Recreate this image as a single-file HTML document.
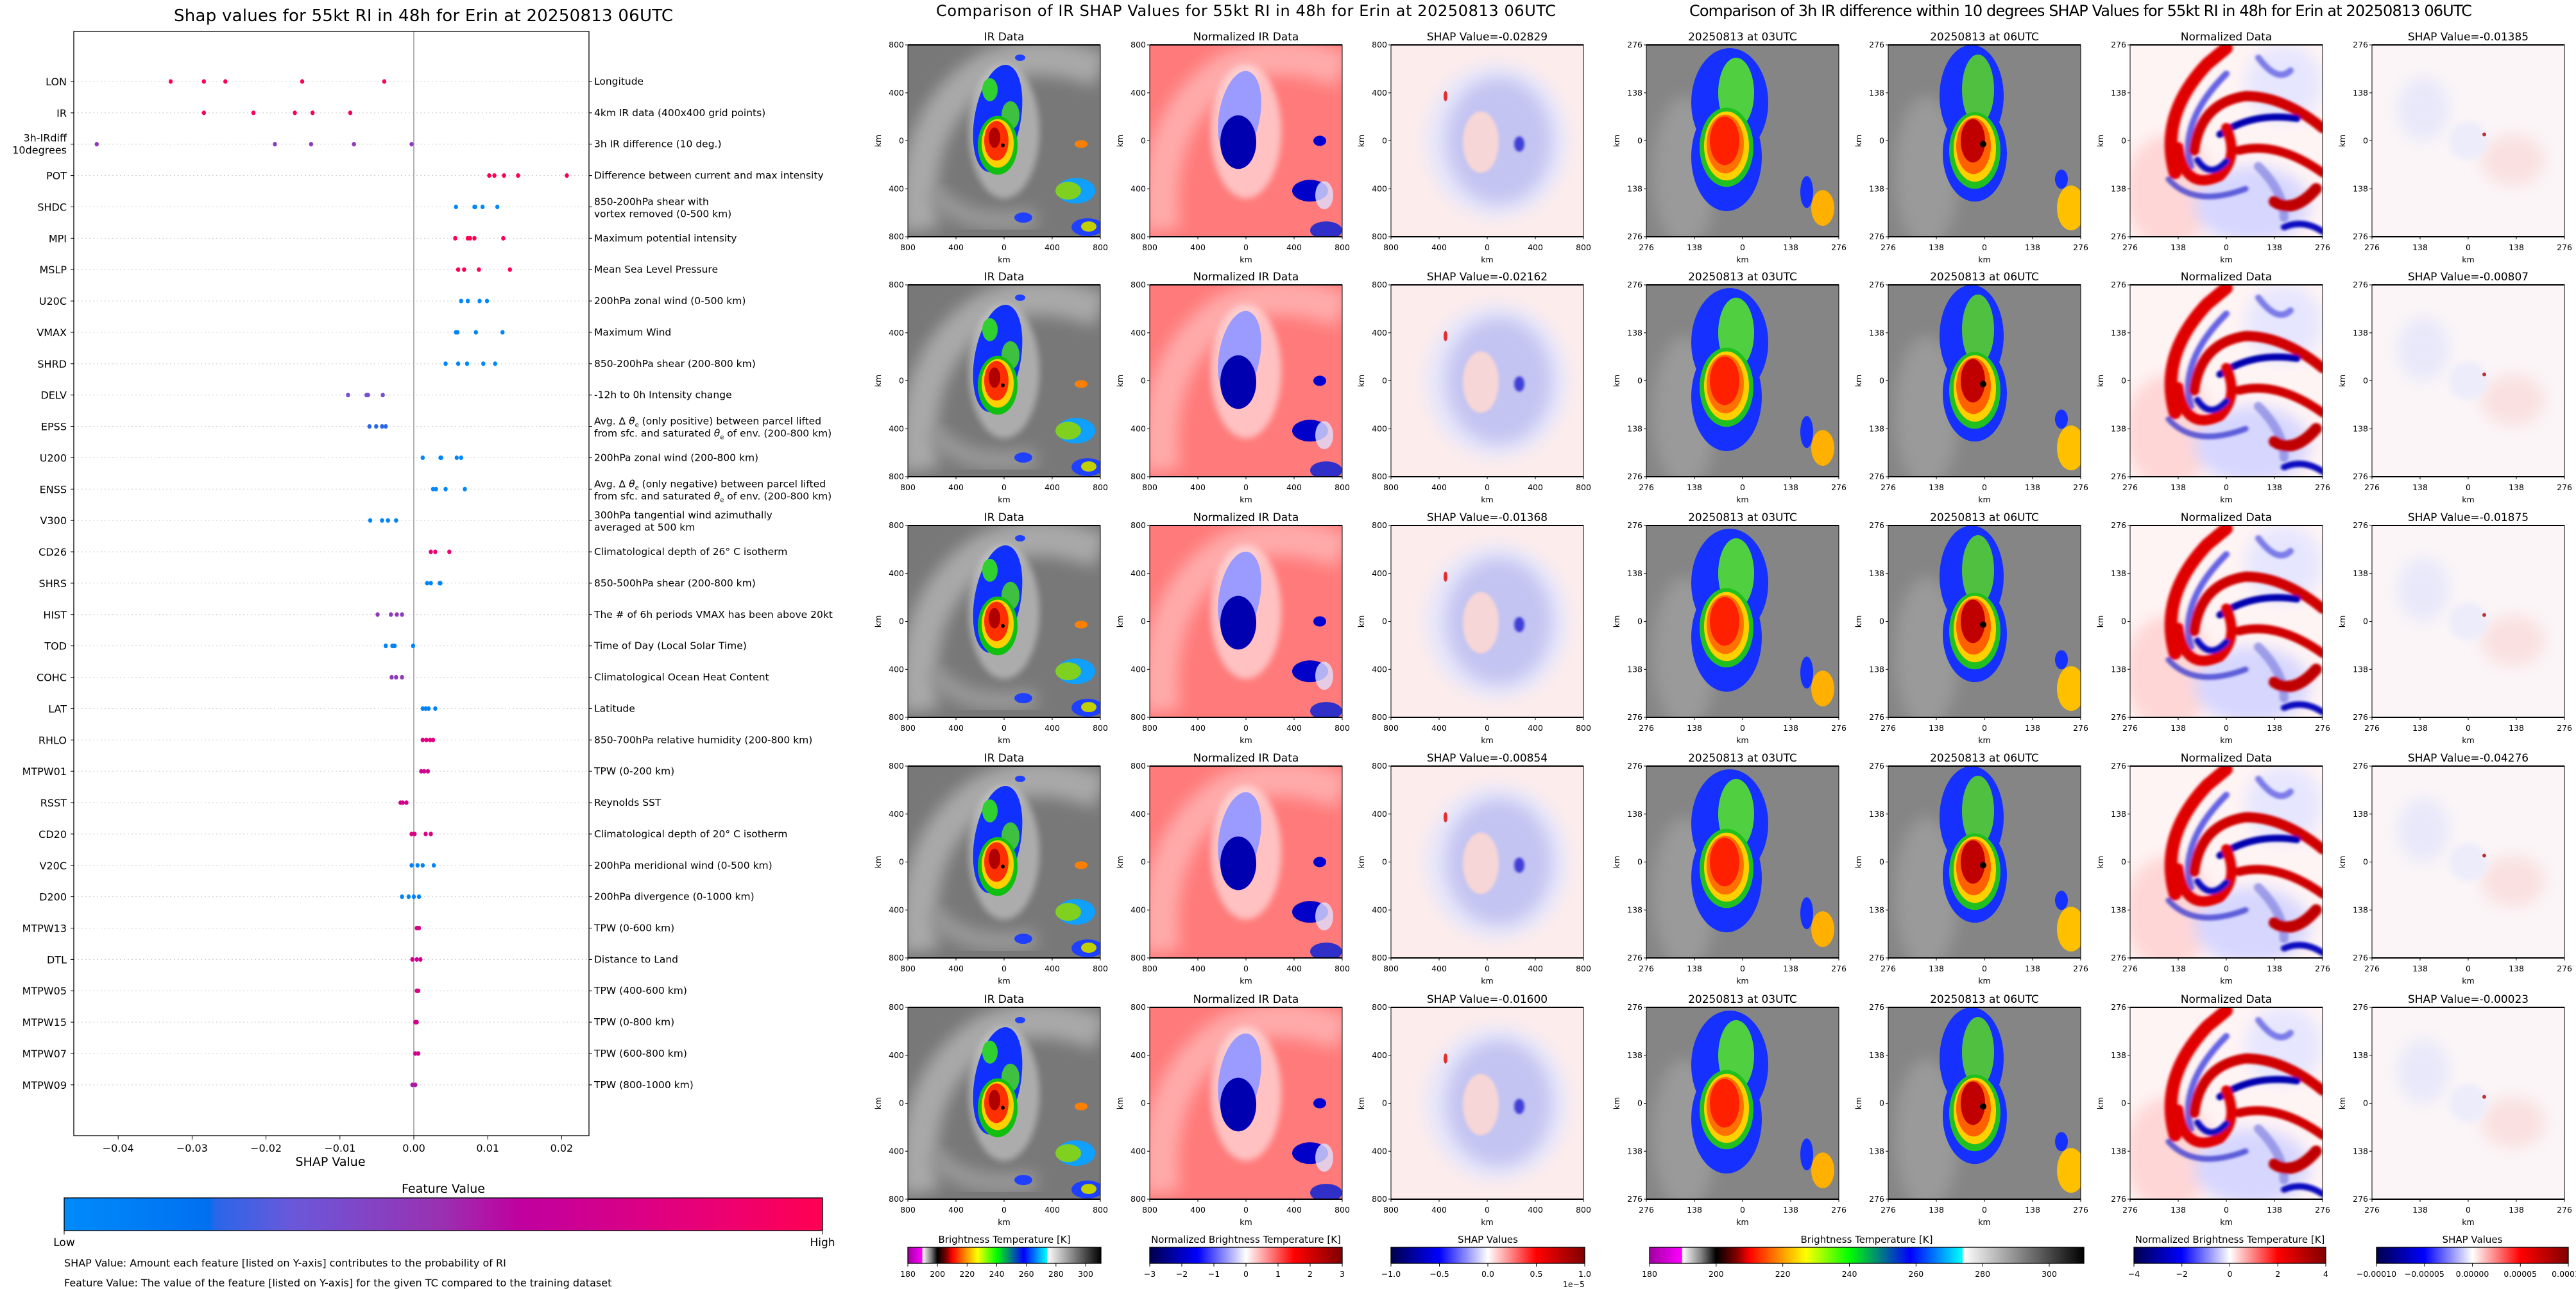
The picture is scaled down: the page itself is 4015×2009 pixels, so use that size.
<!DOCTYPE html>
<html><head><meta charset="utf-8">
<style>
html,body{margin:0;padding:0;background:#fff;}
svg{display:block;font-family:"DejaVu Sans","Liberation Sans",sans-serif;}
</style></head>
<body>
<svg id="root" width="4015" height="2009" viewBox="0 0 4015 2009" xmlns="http://www.w3.org/2000/svg">
<defs>
  <linearGradient id="fvGrad" x1="0" x2="1" y1="0" y2="0">
    <stop offset="0" stop-color="#008bfb"/><stop offset="0.19" stop-color="#0070f0"/>
    <stop offset="0.2" stop-color="#2a66e8"/><stop offset="0.3" stop-color="#6a58da"/>
    <stop offset="0.5" stop-color="#9a30b0"/><stop offset="0.6" stop-color="#c000a0"/>
    <stop offset="0.85" stop-color="#ea0075"/><stop offset="1" stop-color="#ff0052"/>
  </linearGradient>
  <linearGradient id="btGrad" x1="0" x2="1" y1="0" y2="0">
    <stop offset="0" stop-color="#a000a0"/><stop offset="0.074" stop-color="#ff00ff"/>
    <stop offset="0.076" stop-color="#ffffff"/><stop offset="0.12" stop-color="#808080"/>
    <stop offset="0.153" stop-color="#000000"/><stop offset="0.2" stop-color="#800000"/>
    <stop offset="0.23" stop-color="#ff0000"/><stop offset="0.3" stop-color="#ff9000"/>
    <stop offset="0.36" stop-color="#ffff00"/><stop offset="0.46" stop-color="#00ff00"/>
    <stop offset="0.6" stop-color="#0000ff"/><stop offset="0.72" stop-color="#00ffff"/>
    <stop offset="0.722" stop-color="#ffffff"/><stop offset="1" stop-color="#000000"/>
  </linearGradient>
  <linearGradient id="seisGrad" x1="0" x2="1" y1="0" y2="0">
    <stop offset="0" stop-color="#00004c"/><stop offset="0.25" stop-color="#0000ff"/>
    <stop offset="0.5" stop-color="#ffffff"/><stop offset="0.75" stop-color="#ff0000"/>
    <stop offset="1" stop-color="#800000"/>
  </linearGradient>
  <filter id="b2" x="-20%" y="-20%" width="140%" height="140%"><feGaussianBlur stdDeviation="2"/></filter>
  <filter id="b5" x="-20%" y="-20%" width="140%" height="140%"><feGaussianBlur stdDeviation="5"/></filter>
  <filter id="b12" x="-30%" y="-30%" width="160%" height="160%"><feGaussianBlur stdDeviation="12"/></filter>

  <g id="ir1">
    <rect width="300" height="300" fill="#787878"/>
    <path d="M20 290 Q0 120 120 40 Q200 0 300 40" stroke="#a9a9a9" stroke-width="55" fill="none" filter="url(#b12)"/>
    <path d="M40 230 Q90 290 200 270" stroke="#999" stroke-width="30" fill="none" filter="url(#b12)"/>
    <ellipse cx="150" cy="135" rx="55" ry="105" fill="#d0d0d0" opacity=".6" filter="url(#b5)"/>
    <ellipse cx="140" cy="115" rx="36" ry="85" fill="#1030ff" transform="rotate(10 140 115)"/>
    <ellipse cx="128" cy="70" rx="12" ry="18" fill="#30d030"/>
    <ellipse cx="160" cy="110" rx="14" ry="22" fill="#40c040"/>
    <ellipse cx="140" cy="157" rx="31" ry="46" fill="#10c010"/>
    <ellipse cx="140" cy="154" rx="25" ry="38" fill="#ffd000"/>
    <ellipse cx="138" cy="150" rx="19" ry="31" fill="#ff3000"/>
    <ellipse cx="135" cy="145" rx="9" ry="16" fill="#b00000"/>
    <circle cx="148" cy="157" r="3" fill="#000"/>
    <ellipse cx="262" cy="228" rx="30" ry="20" fill="#10a0ff"/>
    <ellipse cx="250" cy="228" rx="20" ry="14" fill="#80d020"/>
    <ellipse cx="280" cy="285" rx="25" ry="14" fill="#2040ff"/>
    <ellipse cx="282" cy="284" rx="12" ry="8" fill="#c0d000"/>
    <ellipse cx="270" cy="155" rx="10" ry="6" fill="#ff8000"/>
    <ellipse cx="180" cy="270" rx="14" ry="8" fill="#2040ff"/>
    <ellipse cx="175" cy="20" rx="8" ry="5" fill="#2040ff"/>
  </g>
  <g id="nir1">
    <rect width="300" height="300" fill="#ff7a7a"/>
    <path d="M20 290 Q0 120 120 40 Q200 0 300 40" stroke="#ffaaaa" stroke-width="55" fill="none" filter="url(#b12)"/>
    <ellipse cx="150" cy="135" rx="55" ry="105" fill="#ffe0e0" opacity=".7" filter="url(#b5)"/>
    <ellipse cx="140" cy="110" rx="32" ry="70" fill="#9a9aff" transform="rotate(10 140 110)"/>
    <ellipse cx="138" cy="152" rx="28" ry="42" fill="#0000b0"/>
    <ellipse cx="250" cy="228" rx="28" ry="17" fill="#0000c8"/>
    <ellipse cx="275" cy="290" rx="25" ry="14" fill="#3030c8"/>
    <ellipse cx="265" cy="150" rx="10" ry="8" fill="#0000d0"/>
    <ellipse cx="272" cy="235" rx="14" ry="22" fill="#e0e0ff" opacity=".8"/>
  </g>
  <g id="sh1">
    <rect width="300" height="300" fill="#fcecec"/>
    <ellipse cx="165" cy="150" rx="110" ry="120" fill="#e6e6fa" filter="url(#b12)"/>
    <ellipse cx="168" cy="150" rx="82" ry="98" fill="#c4c4f2" filter="url(#b12)"/>
    <ellipse cx="140" cy="152" rx="28" ry="48" fill="#f6d6d6" filter="url(#b2)"/>
    <ellipse cx="85" cy="80" rx="3" ry="8" fill="#e03030"/>
    <ellipse cx="200" cy="155" rx="8" ry="12" fill="#4040d8" filter="url(#b2)"/>
  </g>
  <g id="ir2">
    <rect width="300" height="300" fill="#858585"/>
    <ellipse cx="60" cy="200" rx="50" ry="120" fill="#a8a8a8" opacity=".6" filter="url(#b12)"/>
    <ellipse cx="130" cy="90" rx="60" ry="85" fill="#1530ff"/>
    <ellipse cx="125" cy="175" rx="55" ry="85" fill="#1530ff"/>
    <ellipse cx="140" cy="75" rx="28" ry="55" fill="#50d040"/>
    <ellipse cx="125" cy="160" rx="42" ry="62" fill="#20c020"/>
    <ellipse cx="125" cy="158" rx="35" ry="54" fill="#ffd000"/>
    <ellipse cx="123" cy="155" rx="29" ry="46" fill="#ff7000"/>
    <ellipse cx="122" cy="150" rx="23" ry="38" fill="#ff2000"/>
    <ellipse cx="275" cy="255" rx="18" ry="28" fill="#ffb000"/>
    <ellipse cx="250" cy="230" rx="10" ry="25" fill="#1530ff"/>
  </g>
  <g id="ir3">
    <rect width="300" height="300" fill="#858585"/>
    <ellipse cx="60" cy="200" rx="50" ry="120" fill="#a8a8a8" opacity=".6" filter="url(#b12)"/>
    <ellipse cx="130" cy="80" rx="50" ry="80" fill="#1530ff"/>
    <ellipse cx="135" cy="170" rx="50" ry="75" fill="#1530ff"/>
    <ellipse cx="140" cy="70" rx="25" ry="55" fill="#50c040"/>
    <ellipse cx="135" cy="165" rx="40" ry="60" fill="#20c020"/>
    <ellipse cx="135" cy="162" rx="33" ry="52" fill="#ffd000"/>
    <ellipse cx="133" cy="158" rx="27" ry="44" fill="#ff6000"/>
    <ellipse cx="132" cy="150" rx="19" ry="34" fill="#c00000"/>
    <circle cx="148" cy="155" r="5" fill="#000"/>
    <ellipse cx="285" cy="255" rx="22" ry="35" fill="#ffc000"/>
    <ellipse cx="270" cy="210" rx="10" ry="15" fill="#1530ff"/>
  </g>
  <g id="nd2">
    <rect width="300" height="300" fill="#fff4f4"/>
    <ellipse cx="60" cy="230" rx="70" ry="90" fill="#ffd6d6" filter="url(#b12)"/>
    <ellipse cx="190" cy="250" rx="90" ry="60" fill="#d6d6ff" filter="url(#b12)"/>
    <ellipse cx="240" cy="60" rx="60" ry="60" fill="#e6e6ff" filter="url(#b12)"/>
    <g fill="none" filter="url(#b2)" stroke-linecap="round" stroke-linejoin="round">
      <path d="M70 200 Q45 110 120 30 L150 5" stroke="#e00000" stroke-width="20"/>
      <path d="M95 190 Q75 120 150 45" stroke="#4040e0" stroke-width="10" opacity=".8"/>
      <path d="M100 165 Q110 90 180 80 Q240 80 300 130" stroke="#d00000" stroke-width="16"/>
      <path d="M140 140 Q190 105 260 115" stroke="#0000b0" stroke-width="11"/>
      <path d="M170 165 Q230 150 300 200" stroke="#d00000" stroke-width="14"/>
      <path d="M75 160 Q85 230 140 205 Q170 175 150 130" stroke="#e00000" stroke-width="16"/>
      <path d="M105 180 Q125 210 150 182" stroke="#1010c0" stroke-width="10"/>
      <path d="M60 210 Q100 255 180 225" stroke="#4040d0" stroke-width="9" opacity=".8"/>
      <path d="M200 190 Q240 230 240 270" stroke="#8080e0" stroke-width="14" opacity=".7"/>
      <path d="M225 245 Q255 265 290 225" stroke="#c00000" stroke-width="18"/>
      <path d="M240 285 Q270 272 300 292" stroke="#1010c0" stroke-width="10"/>
      <path d="M200 20 Q230 60 250 40" stroke="#5050e0" stroke-width="10" opacity=".7"/>
    </g>
  </g>
  <g id="sh2">
    <rect width="300" height="300" fill="#fbf5f7"/>
    <ellipse cx="80" cy="100" rx="40" ry="50" fill="#e8e8fa" filter="url(#b12)"/>
    <ellipse cx="220" cy="180" rx="50" ry="40" fill="#fae0e0" filter="url(#b12)"/>
    <ellipse cx="150" cy="150" rx="30" ry="30" fill="#ececfa" filter="url(#b5)"/>
    <circle cx="175" cy="140" r="3" fill="#c03030"/>
  </g>
</defs>
<g id="leftChart"></g>
<g id="panels"></g>
</svg>
<script>
const NS='http://www.w3.org/2000/svg';
const features=['LON','IR','3h-IRdiff|10degrees','POT','SHDC','MPI','MSLP','U20C','VMAX','SHRD','DELV','EPSS','U200','ENSS','V300','CD26','SHRS','HIST','TOD','COHC','LAT','RHLO','MTPW01','RSST','CD20','V20C','D200','MTPW13','DTL','MTPW05','MTPW15','MTPW07','MTPW09'];
const descriptions=['Longitude','4km IR data (400x400 grid points)','3h IR difference (10 deg.)','Difference between current and max intensity','850-200hPa shear with|vortex removed (0-500 km)','Maximum potential intensity','Mean Sea Level Pressure','200hPa zonal wind (0-500 km)','Maximum Wind','850-200hPa shear (200-800 km)','-12h to 0h Intensity change','Avg. Δ θe (only positive) between parcel lifted|from sfc. and saturated θe of env. (200-800 km)','200hPa zonal wind (200-800 km)','Avg. Δ θe (only negative) between parcel lifted|from sfc. and saturated θe of env. (200-800 km)','300hPa tangential wind azimuthally|averaged at 500 km','Climatological depth of 26° C isotherm','850-500hPa shear (200-800 km)','The # of 6h periods VMAX has been above 20kt','Time of Day (Local Solar Time)','Climatological Ocean Heat Content','Latitude','850-700hPa relative humidity (200-800 km)','TPW (0-200 km)','Reynolds SST','Climatological depth of 20° C isotherm','200hPa meridional wind (0-500 km)','200hPa divergence (0-1000 km)','TPW (0-600 km)','Distance to Land','TPW (400-600 km)','TPW (0-800 km)','TPW (600-800 km)','TPW (800-1000 km)'];
const shapValues=[
[-0.0329,-0.0284,-0.0255,-0.0151,-0.0040],
[-0.0284,-0.0217,-0.0161,-0.0137,-0.0086],
[-0.0429,-0.0188,-0.0139,-0.0081,-0.0003],
[0.0102,0.0109,0.0122,0.0141,0.0207],
[0.0057,0.0082,0.0083,0.0093,0.0113],
[0.0056,0.0073,0.0076,0.0082,0.0121],
[0.0060,0.0068,0.0088,0.0130],
[0.0064,0.0073,0.0089,0.0099],
[0.0057,0.0059,0.0084,0.0120],
[0.0043,0.0060,0.0072,0.0094,0.0110],
[-0.0089,-0.0064,-0.0062,-0.0042],
[-0.0060,-0.0051,-0.0043,-0.0038],
[0.0012,0.0036,0.0037,0.0058,0.0064],
[0.0026,0.0030,0.0043,0.0069],
[-0.0059,-0.0043,-0.0035,-0.0024],
[0.0023,0.0029,0.0048],
[0.0018,0.0023,0.0035,0.0036],
[-0.0049,-0.0031,-0.0023,-0.0016],
[-0.0038,-0.0029,-0.0026,-0.0001],
[-0.0030,-0.0024,-0.0016],
[0.0012,0.0016,0.0020,0.0029],
[0.0012,0.0017,0.0022,0.0026],
[0.0010,0.0014,0.0019],
[-0.0018,-0.0015,-0.0010],
[-0.0003,0.0001,0.0016,0.0023],
[-0.0003,0.0005,0.0012,0.0027],
[-0.0016,-0.0007,0.0000,0.0007],
[0.0004,0.0007],
[-0.0002,0.0004,0.0009],
[0.0004,0.0006],
[0.0002,0.0004],
[0.0002,0.0006],
[-0.0002,0.0002]];
const featureValues=[1,0.95,0.45,0.98,0.02,1,1,0.02,0.05,0.02,0.35,0.2,0.03,0.03,0.05,0.85,0.05,0.45,0.05,0.45,0.05,0.8,0.7,0.72,0.78,0.05,0.05,0.75,0.7,0.75,0.72,0.7,0.55];
const xTicks=[-0.04,-0.03,-0.02,-0.01,0.00,0.01,0.02];
const xTickLabels=['\u22120.04','\u22120.03','\u22120.02','\u22120.01','0.00','0.01','0.02'];
const row1Shap=['-0.02829','-0.02162','-0.01368','-0.00854','-0.01600'];
const row2Shap=['-0.01385','-0.00807','-0.01875','-0.04276','-0.00023'];
const btTicks=[180,200,220,240,260,280,300];
const normTicks1=[-3,-2,-1,0,1,2,3];
const normTicks2=[-4,-2,0,2,4];
const shapTicks1=['\u22121.0','\u22120.5','0.0','0.5','1.0'];
const shapTicks2=['\u22120.00010','\u22120.00005','0.00000','0.00005','0.00010'];

function el(tag,attrs,parent,text){const e=document.createElementNS(NS,tag);for(const k in attrs)e.setAttribute(k,attrs[k]);if(text!==undefined)e.textContent=text;parent.appendChild(e);return e;}
const L=document.getElementById('leftChart');
const AX_L=115,AX_R=918,AX_T=49,AX_B=1770,ZERO=645,PXU=11520,ROW0=127,ROWH=48.87;
const xs=v=>ZERO+v*PXU;
const ys=i=>ROW0+i*ROWH;
const stops=[[0,[0,139,251]],[0.19,[0,112,240]],[0.2,[42,102,232]],[0.3,[106,88,218]],[0.5,[154,48,176]],[0.6,[192,0,160]],[0.85,[234,0,117]],[1,[255,0,82]]];
function fvColor(t){for(let i=1;i<stops.length;i++){if(t<=stops[i][0]){const a=stops[i-1],b=stops[i];const f=(t-a[0])/(b[0]-a[0]);const c=a[1].map((v,k)=>Math.round(v+(b[1][k]-v)*f));return 'rgb('+c.join(',')+')';}}return 'rgb(255,0,82)';}

let t=el('text',{x:660,y:33,'font-size':26,'text-anchor':'middle',textLength:778},L,'Shap values for 55kt RI in 48h for Erin at 20250813 06UTC');

features.forEach((f,i)=>{
  const y=ys(i);
  const g=el('line',{x1:AX_L,x2:AX_R,y1:y,y2:y,stroke:'#cccccc','stroke-width':1,'stroke-dasharray':'2 4'},L);
  
  el('line',{x1:AX_L-5,x2:AX_L,y1:y,y2:y,stroke:'#000'},L);
  el('line',{x1:AX_R,x2:AX_R+5,y1:y,y2:y,stroke:'#000'},L);
  const parts=f.split('|');
  const lt=el('text',{x:104,y:y+(parts.length>1?-4:6),'font-size':16,'text-anchor':'end'},L);
  
  parts.forEach((p,k)=>{el('tspan',{x:104,dy:k?19:0},lt,p);});
  const dparts=descriptions[i].split('|');
  const rt=el('text',{x:926,y:y+(dparts.length>1?-3:5),'font-size':15.5},L);
  
  dparts.forEach((p,k)=>{
    const segs=p.split('θe');
    el('tspan',{x:926,dy:k?19:0},rt,segs[0]);
    for(let s=1;s<segs.length;s++){
      el('tspan',{'font-style':'italic'},rt,'θ');
      el('tspan',{'font-size':10,dy:4},rt,'e');
      el('tspan',{dy:-4},rt,segs[s]);
    }
  });
});
const zl=el('line',{x1:ZERO,x2:ZERO,y1:AX_T,y2:AX_B,stroke:'#999','stroke-width':1.5},L);

const fr=el('rect',{x:AX_L,y:AX_T,width:AX_R-AX_L,height:AX_B-AX_T,fill:'none',stroke:'#000','stroke-width':1.3},L);

shapValues.forEach((arr,i)=>{arr.forEach(v=>{
  const d=el('ellipse',{cx:xs(v),cy:ys(i),rx:3.2,ry:3.6,fill:fvColor(featureValues[i])},L);
  
  
});});
xTicks.forEach((v,k)=>{
  el('line',{x1:xs(v),x2:xs(v),y1:AX_B,y2:AX_B+6,stroke:'#000'},L);
  const tl=el('text',{x:xs(v),y:1795,'font-size':16,'text-anchor':'middle'},L,xTickLabels[k]);
  
});
t=el('text',{x:515,y:1817,'font-size':19,'text-anchor':'middle'},L,'SHAP Value');

t=el('text',{x:691,y:1859,'font-size':19,'text-anchor':'middle'},L,'Feature Value');

t=el('rect',{x:100,y:1867,width:1182,height:51,fill:'url(#fvGrad)',stroke:'#000','stroke-width':1.3},L);

el('line',{x1:100,x2:100,y1:1918,y2:1924,stroke:'#000'},L);el('line',{x1:1282,x2:1282,y1:1918,y2:1924,stroke:'#000'},L);
t=el('text',{x:100,y:1942,'font-size':17,'text-anchor':'middle'},L,'Low');
t=el('text',{x:1282,y:1942,'font-size':17,'text-anchor':'middle'},L,'High');
t=el('text',{x:100,y:1974,'font-size':16},L,'SHAP Value: Amount each feature [listed on Y-axis] contributes to the probability of RI');
t=el('text',{x:100,y:2005,'font-size':16},L,'Feature Value: The value of the feature [listed on Y-axis] for the given TC compared to the training dataset');

const P=document.getElementById('panels');
const rowTops=[70,444,819,1194,1570];
const PW=300,PH=299;
t=el('text',{x:1942,y:25,'font-size':24,'text-anchor':'middle',textLength:966},P,'Comparison of IR SHAP Values for 55kt RI in 48h for Erin at 20250813 06UTC');

t=el('text',{x:3243,y:25,'font-size':24,'text-anchor':'middle',textLength:1220},P,'Comparison of 3h IR difference within 10 degrees SHAP Values for 55kt RI in 48h for Erin at 20250813 06UTC');

const g1x=[1415,1792,2168],g2x=[2566,2943,3320,3697];
function panel(x,y,sym,title,ticks,name){
  const g=el('g',{},P);
  
  const s=el('svg',{x:x,y:y,width:PW,height:PH,viewBox:'0 0 300 300',preserveAspectRatio:'none'},g);
  el('use',{href:'#'+sym},s);
  el('rect',{x:x,y:y,width:PW,height:PH,fill:'none',stroke:'#000','stroke-width':1},g);
  el('line',{x1:x,x2:x+PW,y1:y,y2:y,stroke:'#000','stroke-width':2},g);
  el('line',{x1:x,x2:x+PW,y1:y+PH,y2:y+PH,stroke:'#000','stroke-width':2},g);
  const tt=el('text',{x:x+PW/2,y:y-7,'font-size':17,'text-anchor':'middle'},g,title);
  
  ticks.forEach((lab,k)=>{
    const px=x+k*PW/4,py=y+k*PH/4;
    el('line',{x1:px,x2:px,y1:y+PH,y2:y+PH+4,stroke:'#000'},g);
    el('text',{x:px,y:y+PH+21,'font-size':12.5,'text-anchor':'middle'},g,lab);
    el('line',{x1:x-4,x2:x,y1:py,y2:py,stroke:'#000'},g);
    el('text',{x:x-6,y:py+4,'font-size':12.5,'text-anchor':'end'},g,lab);
  });
  el('text',{x:x+PW/2,y:y+PH+40,'font-size':12.5,'text-anchor':'middle'},g,'km');
  el('text',{x:0,y:0,'font-size':12.5,'text-anchor':'middle',transform:`translate(${x-42},${y+PH/2}) rotate(-90)`},g,'km');
}
const t1=['800','400','0','400','800'],t2=['276','138','0','138','276'];
rowTops.forEach((y,r)=>{
  panel(g1x[0],y,'ir1','IR Data',t1,'ir-data-panel');
  panel(g1x[1],y,'nir1','Normalized IR Data',t1,'normalized-ir-panel');
  panel(g1x[2],y,'sh1','SHAP Value='+row1Shap[r],t1,'ir-shap-panel');
  panel(g2x[0],y,'ir2','20250813 at 03UTC',t2,'ir-03utc-panel');
  panel(g2x[1],y,'ir3','20250813 at 06UTC',t2,'ir-06utc-panel');
  panel(g2x[2],y,'nd2','Normalized Data',t2,'normalized-diff-panel');
  panel(g2x[3],y,'sh2','SHAP Value='+row2Shap[r],t2,'irdiff-shap-panel');
});
function cbar(x,w,fill,title,labels,pos,name){
  const g=el('g',{},P);
  
  el('text',{x:x+w/2,y:1937,'font-size':15,'text-anchor':'middle'},g,title);
  el('rect',{x:x,y:1944,width:w,height:25,fill:fill,stroke:'#000','stroke-width':1.3},g);
  labels.forEach((lab,k)=>{const px=x+pos[k]*w;
    el('line',{x1:px,x2:px,y1:1969,y2:1974,stroke:'#000'},g);
    el('text',{x:px,y:1990,'font-size':12.5,'text-anchor':'middle'},g,lab);});
}
const btPos=btTicks.map(v=>(v-180)/130.4);
const btLab=btTicks.map(String);
const lin=n=>Array.from({length:n},(_,k)=>k/(n-1));
const fmtN=a=>a.map(v=>v<0?'\u2212'+(-v):String(v));
cbar(1415,301,'url(#btGrad)','Brightness Temperature [K]',btLab,btPos,'bt-colorbar');
cbar(1792,300,'url(#seisGrad)','Normalized Brightness Temperature [K]',fmtN(normTicks1),lin(7),'normalized-colorbar');
cbar(2168,302,'url(#seisGrad)','SHAP Values',shapTicks1,lin(5),'shap-colorbar');
t=el('text',{x:2470,y:2006,'font-size':12.5,'text-anchor':'end'},P,'1e\u22125');
cbar(2571,677,'url(#btGrad)','Brightness Temperature [K]',btLab,btPos,'bt-colorbar-2');
cbar(3326,299,'url(#seisGrad)','Normalized Brightness Temperature [K]',fmtN(normTicks2),lin(5),'normalized-colorbar-2');
cbar(3704,299,'url(#seisGrad)','SHAP Values',shapTicks2,lin(5),'shap-colorbar-2');
</script>
</body></html>
